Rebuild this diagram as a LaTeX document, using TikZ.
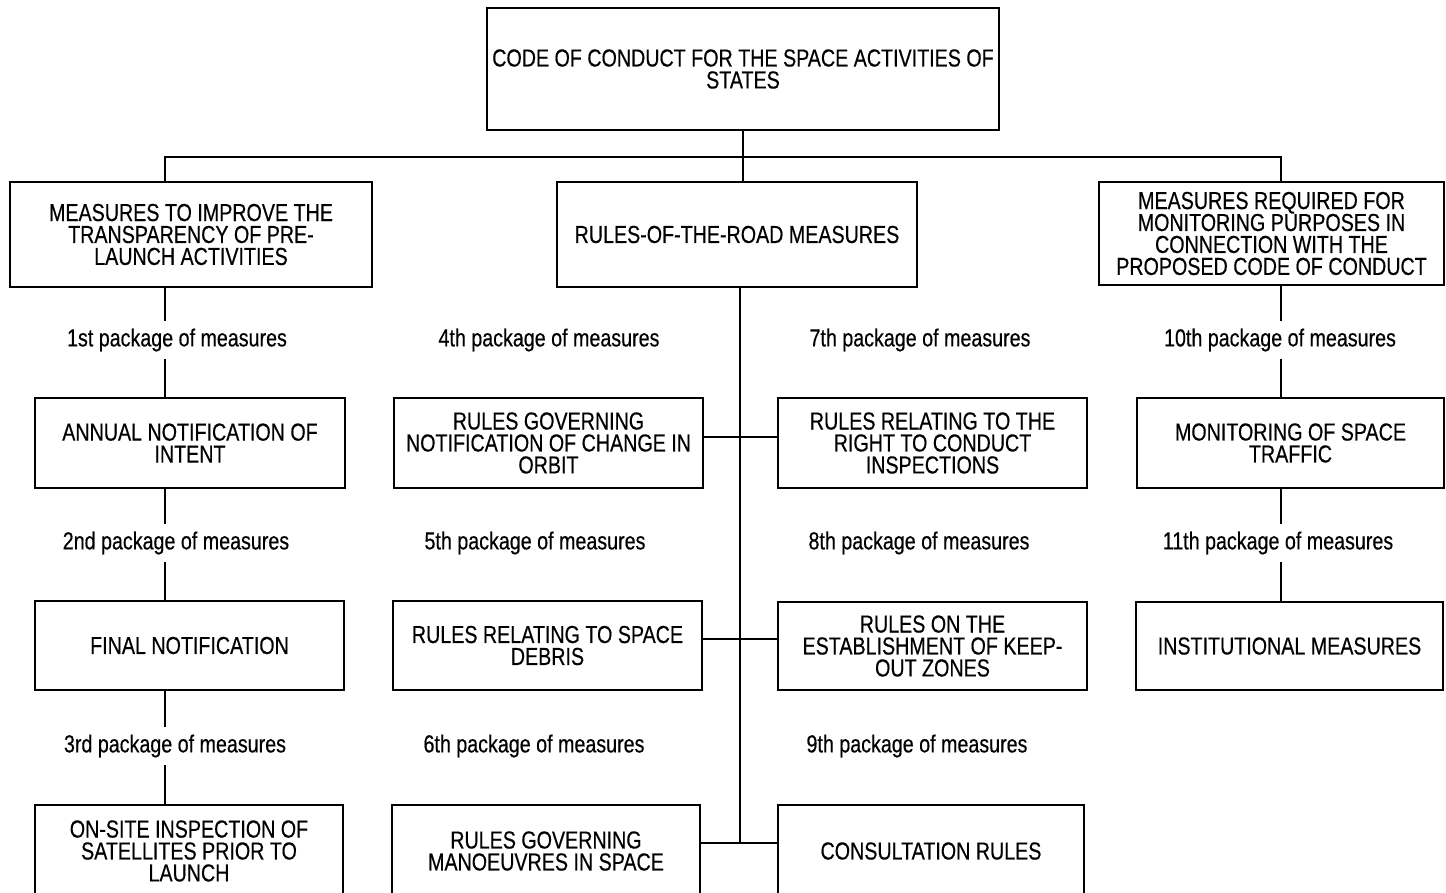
\documentclass[tikz,border=0pt]{standalone}
\usepackage{fontspec}
\setmainfont{Liberation Sans}[FakeStretch=0.8,FakeBold=0.4]
\begin{document}
\begin{tikzpicture}[x=0.02cm,y=-0.02cm,
  box/.style={draw, line width=1.6pt, inner sep=0pt, align=center, font=\fontsize{14}{12.5}\selectfont},
  lab/.style={inner sep=0pt, minimum height=0.76cm, font=\fontsize{14}{12.5}\selectfont},
  conn/.style={line width=1.6pt}]
\useasboundingbox (0,0) rectangle (1446,892);
\clip (0,0) rectangle (1446,892);
% boxes
\node[box, minimum width=10.24cm, minimum height=2.44cm] (top) at (743,69) {CODE OF CONDUCT FOR THE SPACE ACTIVITIES OF\\STATES};
\node[box, minimum width=7.24cm, minimum height=2.1cm] (L1) at (191,234.5) {MEASURES TO IMPROVE THE\\TRANSPARENCY OF PRE-\\LAUNCH ACTIVITIES};
\node[box, minimum width=7.2cm, minimum height=2.1cm] (M1) at (737,234.5) {RULES-OF-THE-ROAD MEASURES};
\node[box, minimum width=6.9cm, minimum height=2.06cm] (R1) at (1271.5,233.5) {MEASURES REQUIRED FOR\\MONITORING PURPOSES IN\\CONNECTION WITH THE\\PROPOSED CODE OF CONDUCT};
\node[box, minimum width=6.2cm, minimum height=1.8cm] (L2) at (190,443) {ANNUAL NOTIFICATION OF\\INTENT};
\node[box, minimum width=6.18cm, minimum height=1.78cm] (L3) at (189.5,645.5) {FINAL NOTIFICATION};
\node[box, minimum width=6.16cm, minimum height=1.84cm] (L4) at (189,851) {ON-SITE INSPECTION OF\\SATELLITES PRIOR TO\\LAUNCH};
\node[box, minimum width=6.18cm, minimum height=1.8cm] (M2) at (548.5,443) {RULES GOVERNING\\NOTIFICATION OF CHANGE IN\\ORBIT};
\node[box, minimum width=6.18cm, minimum height=1.78cm] (M4) at (547.5,645.5) {RULES RELATING TO SPACE\\DEBRIS};
\node[box, minimum width=6.16cm, minimum height=1.84cm] (M6) at (546,851) {RULES GOVERNING\\MANOEUVRES IN SPACE};
\node[box, minimum width=6.18cm, minimum height=1.8cm] (M3) at (932.5,443) {RULES RELATING TO THE\\RIGHT TO CONDUCT\\INSPECTIONS};
\node[box, minimum width=6.18cm, minimum height=1.76cm] (M5) at (932.5,646) {RULES ON THE\\ESTABLISHMENT OF KEEP-\\OUT ZONES};
\node[box, minimum width=6.12cm, minimum height=1.84cm] (M7) at (931,851) {CONSULTATION RULES};
\node[box, minimum width=6.14cm, minimum height=1.8cm] (R2) at (1290.5,443) {MONITORING OF SPACE\\TRAFFIC};
\node[box, minimum width=6.14cm, minimum height=1.76cm] (R3) at (1289.5,646) {INSTITUTIONAL MEASURES};
% labels
\node[lab] (l1) at (177,340) {1st package of measures};
\node[lab] (l2) at (176,543) {2nd package of measures};
\node[lab] (l3) at (175,746) {3rd package of measures};
\node[lab] (l4) at (549,340) {4th package of measures};
\node[lab] (l5) at (535,543) {5th package of measures};
\node[lab] (l6) at (534,746) {6th package of measures};
\node[lab] (l7) at (920,340) {7th package of measures};
\node[lab] (l8) at (919,543) {8th package of measures};
\node[lab] (l9) at (917,746) {9th package of measures};
\node[lab] (l10) at (1280,340) {10th package of measures};
\node[lab] (l11) at (1278,543) {11th package of measures};
% coordinates
\coordinate (cl) at (165,157);
\coordinate (cr) at (1281,157);
\coordinate (j1) at (740,437);
\coordinate (j2) at (740,639);
\coordinate (j3) at (740,843);
% connectors
\draw[conn] (top.south) -- (top.south |- M1.north);
\draw[conn] (L1.north -| cl) -- (cl) -- (cr) -- (R1.north -| cr);
\draw[conn] (L1.south -| cl) -- (l1.north -| cl);
\draw[conn] (l1.south -| cl) -- (L2.north -| cl);
\draw[conn] (L2.south -| cl) -- (l2.north -| cl);
\draw[conn] (l2.south -| cl) -- (L3.north -| cl);
\draw[conn] (L3.south -| cl) -- (l3.north -| cl);
\draw[conn] (l3.south -| cl) -- (L4.north -| cl);
\draw[conn] (R1.south -| cr) -- (l10.north -| cr);
\draw[conn] (l10.south -| cr) -- (R2.north -| cr);
\draw[conn] (R2.south -| cr) -- (l11.north -| cr);
\draw[conn] (l11.south -| cr) -- (R3.north -| cr);
\draw[conn] (M1.south -| j1) -- (j3);
\draw[conn] (M2.east |- j1) -- (M3.west |- j1);
\draw[conn] (M4.east |- j2) -- (M5.west |- j2);
\draw[conn] (M6.east |- j3) -- (M7.west |- j3);
\end{tikzpicture}
\end{document}
